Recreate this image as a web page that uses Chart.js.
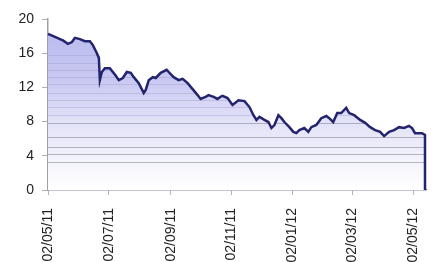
<!DOCTYPE html>
<html>
<head>
<meta charset="utf-8">
<script src="https://cdn.jsdelivr.net/npm/chart.js@4"></script>
<style>
  html, body { margin: 0; padding: 0; background: #fff; }
  #wrap { width: 433px; height: 262px; }
</style>
</head>
<body>
<div id="wrap"><canvas id="priceChart" width="433" height="262"></canvas></div>
<script>
// days since 02/05/11 and price
const days = [0, 7, 12, 15, 20, 24, 27, 32, 37, 42, 45, 49, 51, 52, 54, 57, 62, 68, 71, 75,
    79, 83, 86, 91, 96, 98, 101, 105, 108, 113, 119, 121, 126, 131, 135, 140, 145, 150, 153, 158,
    161, 166, 170, 173, 175, 180, 185, 191, 197, 202, 206, 209, 212, 217, 221, 224, 227, 231, 234, 237,
    242, 246, 249, 252, 257, 261, 264, 269, 274, 279, 282, 286, 290, 294, 299, 302, 307, 313, 318, 323,
    328, 333, 337, 342, 347, 352, 357, 362, 365, 368, 375, 378, 378];
const prices = [18.25, 17.9, 17.65, 17.5, 17.1, 17.3, 17.8, 17.65, 17.4, 17.4, 16.95, 16.0, 15.45, 12.85, 13.8, 14.25, 14.25, 13.35, 12.85, 13.1,
    13.8, 13.7, 13.2, 12.5, 11.35, 11.7, 12.85, 13.2, 13.1, 13.7, 14.05, 13.8, 13.2, 12.85, 13.0, 12.5, 11.8, 11.1, 10.65, 10.9,
    11.1, 10.9, 10.65, 10.9, 11.0, 10.75, 9.95, 10.5, 10.4, 9.7, 8.75, 8.2, 8.55, 8.2, 7.95, 7.25, 7.6, 8.75, 8.4, 7.95,
    7.35, 6.8, 6.65, 7.0, 7.25, 6.8, 7.35, 7.6, 8.4, 8.65, 8.4, 7.95, 9.0, 9.0, 9.6, 9.0, 8.75, 8.2, 7.85, 7.35,
    7.0, 6.8, 6.3, 6.8, 7.0, 7.35, 7.25, 7.5, 7.25, 6.65, 6.65, 6.45, 0];
const tickDays = [0, 61, 123, 184, 245, 305, 366];
const tickLabels = ['02/05/11', '02/07/11', '02/09/11', '02/11/11', '02/01/12', '02/03/12', '02/05/12'];

const points = days.map((d, i) => ({ x: d, y: prices[i] }));

// banded lavender fill like the original export
function areaFill(chart) {
    const area = chart.chartArea;
    const g = chart.ctx.createLinearGradient(0, area.top, 0, area.bottom);
    g.addColorStop(0, '#b8b8ec');
    g.addColorStop(0.35, '#c8c8f2');
    g.addColorStop(0.6, '#e2e2f8');
    g.addColorStop(0.85, '#f5f5fc');
    g.addColorStop(1, '#ffffff');
    return g;
}

const bands = {
    id: 'bands',
    beforeDatasetsDraw(chart) {
        const { ctx, chartArea, scales } = chart;
        const meta = chart.getDatasetMeta(0);
        ctx.save();
        ctx.beginPath();
        meta.data.forEach((p, i) => { if (i === 0) ctx.moveTo(p.x, p.y); else ctx.lineTo(p.x, p.y); });
        ctx.lineTo(chartArea.left, chartArea.bottom);
        ctx.closePath();
        ctx.clip();
        ctx.fillStyle = areaFill(chart);
        ctx.fillRect(chartArea.left, chartArea.top, chartArea.width, chartArea.height);
        // faint stripes inside the fill
        const levels = [15.8, 14.8, 14.0, 13.2, 12.4, 11.4, 10.5, 9.7, 8.8, 7.8, 6.2, 5.0, 4.2, 3.3];
        levels.forEach((v, i) => {
            const y = Math.round(scales.y.getPixelForValue(v)) + 0.5;
            ctx.strokeStyle = i < 9 ? 'rgba(150,150,200,0.35)' : 'rgba(130,130,140,0.55)';
            ctx.lineWidth = 1;
            ctx.beginPath();
            ctx.moveTo(chartArea.left, y);
            ctx.lineTo(chartArea.right, y);
            ctx.stroke();
        });
        ctx.restore();
    }
};

const ctx = document.getElementById('priceChart').getContext('2d');
const priceChart = new Chart(ctx, {
    type: 'line',
    data: {
        datasets: [{
            data: points,
            borderColor: '#23236e',
            borderWidth: 2.5,
            pointRadius: 0,
            tension: 0,
            fill: false,
            clip: 4,
        }]
    },
    plugins: [bands],
    options: {
        responsive: false,
        animation: false,
        layout: { padding: { top: 19, right: 7, left: 0, bottom: 0 } },
        plugins: { legend: { display: false }, tooltip: { enabled: false } },
        scales: {
            x: {
                type: 'linear',
                min: 0,
                max: 379,
                afterBuildTicks: (scale) => { scale.ticks = tickDays.map(v => ({ value: v })); },
                afterFit: (scale) => {
                    scale.height = 72;
                    scale.paddingLeft = 0;
                    scale.paddingRight = 0;
                },
                ticks: {
                    autoSkip: false,
                    minRotation: 90,
                    maxRotation: 90,
                    padding: 13,
                    color: '#222',
                    font: { family: 'Liberation Sans, Arial', size: 14 },
                    callback: (v, i) => tickLabels[i]
                },
                grid: { drawOnChartArea: false, drawTicks: true, tickLength: 5, color: '#b0b0c8' },
                border: { color: '#8a8ab0', width: 1.5 }
            },
            y: {
                min: 0,
                max: 20,
                afterFit: (scale) => { scale.width = 48; },
                ticks: {
                    stepSize: 4,
                    padding: 8,
                    color: '#222',
                    font: { family: 'Liberation Sans, Arial', size: 14 }
                },
                grid: { drawOnChartArea: false, drawTicks: true, tickLength: 6, color: '#b0b0b0' },
                border: { color: '#a0a0a8', width: 1.5 }
            }
        }
    }
});
</script>
</body>
</html>
